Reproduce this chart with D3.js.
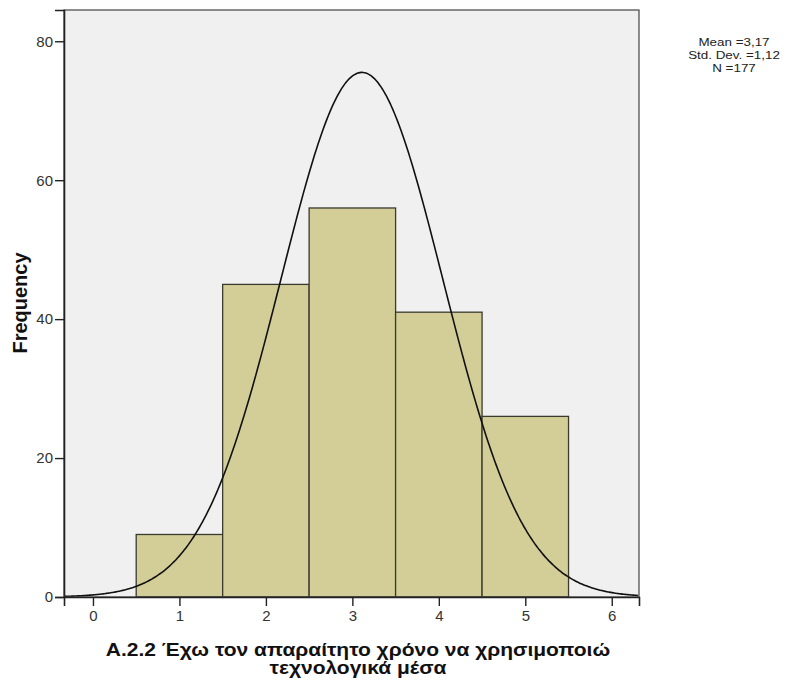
<!DOCTYPE html>
<html>
<head>
<meta charset="utf-8">
<script src="https://cdn.jsdelivr.net/npm/d3@7"></script>
<style>
  html, body { margin: 0; padding: 0; background: #ffffff; }
  svg { display: block; font-family: "Liberation Sans", Arial, sans-serif; }
</style>
</head>
<body>
<svg id="chart" width="795" height="683"></svg>
<script>
// Histogram bins (response values 1..5) and their counts
const binCenters = [1, 2, 3, 4, 5];
const frequencies = [9, 45, 56, 41, 26];
const xTicks = [0, 1, 2, 3, 4, 5, 6];
const yTicks = [0, 20, 40, 60, 80];

// Parameters of the overlaid normal curve
const curveMean = 3.11;
const curveSd = 0.935;
const curveArea = 177; // N × bin width

// Summary statistics shown at the top right
const nTotal = d3.sum(frequencies);
const mean = d3.sum(binCenters, (c, i) => c * frequencies[i]) / nTotal;
const variance = d3.sum(binCenters, (c, i) => frequencies[i] * (c - mean) ** 2) / (nTotal - 1);
const stdDev = Math.sqrt(variance);
const fmt = v => v.toFixed(2).replace(".", ",");
const statLines = ["Mean =" + fmt(mean), "Std. Dev. =" + fmt(stdDev), "N =" + nTotal];

const xTitle = ["Α.2.2 Έχω τον απαραίτητο χρόνο να χρησιμοποιώ", "τεχνολογικά μέσα"];
const yTitle = "Frequency";

const svg = d3.select("#chart");
const plot = { left: 64, top: 10, right: 639, bottom: 597 };

const x = d3.scaleLinear().domain([-0.335, 6.315]).range([plot.left, plot.right]);
const y = d3.scaleLinear().domain([0, 84.5]).range([plot.bottom, plot.top]);

// Plot background
svg.append("rect")
  .attr("x", plot.left).attr("y", plot.top)
  .attr("width", plot.right - plot.left).attr("height", plot.bottom - plot.top)
  .attr("fill", "#f0f0f0");

// Bars
svg.append("g").selectAll("rect")
  .data(binCenters)
  .join("rect")
  .attr("x", d => x(d - 0.5))
  .attr("width", d => x(d + 0.5) - x(d - 0.5))
  .attr("y", (d, i) => y(frequencies[i]))
  .attr("height", (d, i) => y(0) - y(frequencies[i]))
  .attr("fill", "#d3ce97")
  .attr("stroke", "#3a3a30")
  .attr("stroke-width", 1.3);

// Normal curve
const curvePts = d3.range(x.domain()[0], x.domain()[1] + 0.001, 0.02).map(v => [
  v,
  curveArea / (curveSd * Math.sqrt(2 * Math.PI)) * Math.exp(-((v - curveMean) ** 2) / (2 * curveSd ** 2))
]);
svg.append("path")
  .datum(curvePts)
  .attr("fill", "none")
  .attr("stroke", "#111")
  .attr("stroke-width", 1.6)
  .attr("d", d3.line().x(d => x(d[0])).y(d => y(d[1])).curve(d3.curveBasis));

// Frame
svg.append("rect")
  .attr("x", plot.left).attr("y", plot.top)
  .attr("width", plot.right - plot.left).attr("height", plot.bottom - plot.top)
  .attr("fill", "none").attr("stroke", "#444").attr("stroke-width", 1.2);

// Axes
const xAxis = svg.append("g")
  .attr("transform", `translate(0,${plot.bottom})`)
  .call(d3.axisBottom(x).tickValues(xTicks).tickSize(9).tickPadding(4).tickFormat(d3.format("d")));
const yAxis = svg.append("g")
  .attr("transform", `translate(${plot.left},0)`)
  .call(d3.axisLeft(y).tickValues(yTicks).tickSize(9).tickPadding(2).tickFormat(d3.format("d")));

[xAxis, yAxis].forEach(g => {
  g.select(".domain").attr("stroke", "#222").attr("stroke-width", 1.6);
  g.selectAll(".tick line").attr("stroke", "#222").attr("stroke-width", 1.4);
  g.selectAll(".tick text")
    .attr("fill", "#333")
    .style("font-family", "'Liberation Sans', Arial, sans-serif")
    .style("font-size", "15px");
});

// Axis titles
svg.append("text")
  .attr("transform", `translate(27,303) rotate(-90)`)
  .attr("text-anchor", "middle")
  .attr("font-weight", "bold")
  .attr("font-size", 20)
  .attr("fill", "#111")
  .text(yTitle);

svg.append("g")
  .attr("transform", "translate(358,0) scale(1.2,1)")
  .append("text")
  .attr("text-anchor", "middle")
  .attr("font-weight", "bold")
  .attr("font-size", 17.5)
  .attr("fill", "#111")
  .selectAll("tspan")
  .data(xTitle)
  .join("tspan")
  .attr("x", 0)
  .attr("y", (d, i) => 656 + i * 18)
  .text(d => d);

// Statistics box text
svg.append("g")
  .attr("transform", "translate(734,0) scale(1.22,1)")
  .append("text")
  .attr("text-anchor", "middle")
  .attr("font-size", 11)
  .attr("fill", "#222")
  .selectAll("tspan")
  .data(statLines)
  .join("tspan")
  .attr("x", 0)
  .attr("y", (d, i) => 46 + i * 13)
  .text(d => d);
</script>
</body>
</html>
